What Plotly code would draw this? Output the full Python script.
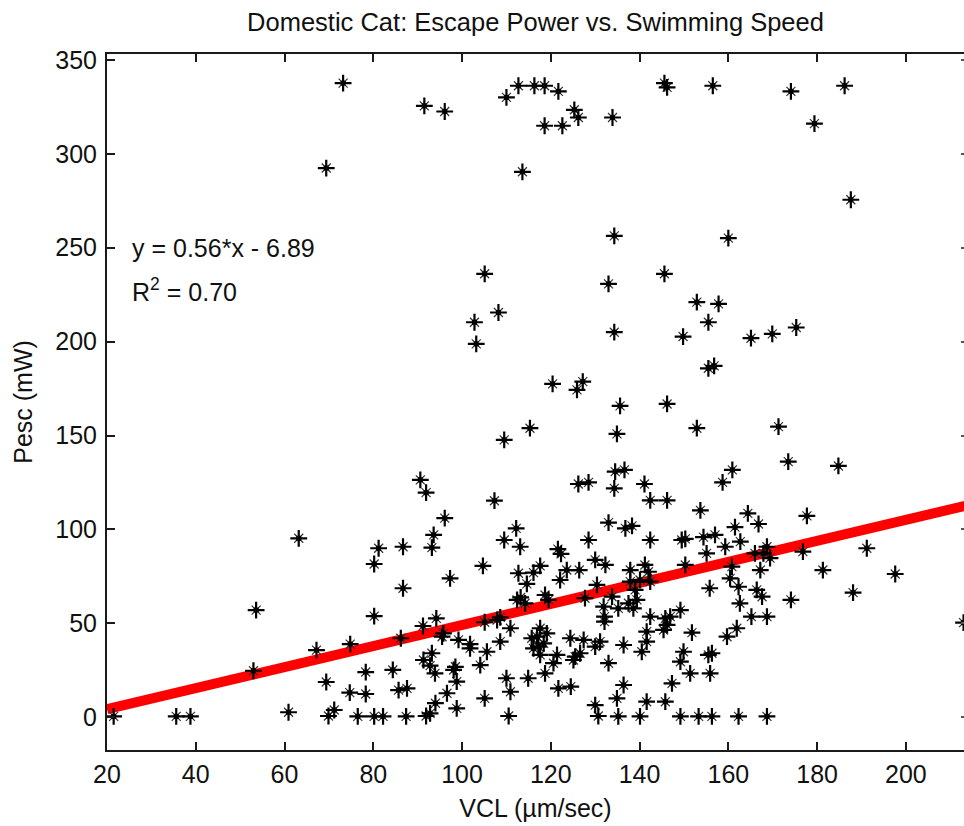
import plotly.graph_objects as go

# ---- data ----
vcl = [
    73.2, 69.4, 91.5, 96.1, 110.0, 112.7, 116.3, 118.6, 121.7, 125.3, 126.2, 118.6, 122.6, 133.9, 113.6,
    145.6, 146.2, 156.5, 174.1, 186.2, 179.4, 187.6, 134.3, 160.0, 105.1, 145.6, 133.0, 108.2, 102.8, 103.2,
    134.3, 149.8, 165.1, 169.9, 175.3, 152.9, 157.8, 155.5, 155.5, 156.8, 120.4, 125.9, 127.2, 135.6, 146.2,
    115.3, 109.5, 134.9, 152.9, 171.3, 173.5, 184.8, 160.9, 158.7, 134.5, 136.6, 134.3, 126.2, 128.5, 141.1,
    90.6, 91.9, 107.3, 142.4, 146.2, 153.7, 164.4, 177.7, 96.1,
    63.2, 81.2, 80.2, 80.2, 53.6, 67.2, 74.8, 53.0, 69.4, 78.3, 74.7, 78.3, 21.5, 35.6, 38.8,
    60.9, 69.9, 71.2, 76.5, 80.2, 82.2,
    93.6, 93.2, 86.7, 112.2, 109.5, 113.1, 121.6, 122.3, 104.7, 97.3, 86.7, 117.6, 116.1, 112.7, 114.6,
    123.6, 122.1, 126.4, 118.7, 119.5, 112.4, 113.2, 114.2, 94.2, 91.2, 95.8, 95.5, 86.2, 105.1, 107.9,
    108.6, 110.9, 99.2, 101.8, 101.8, 105.6, 108.6, 93.2, 91.3, 93.9, 92.8, 98.5, 98.1, 84.4, 104.1,
    98.8, 85.7, 87.6, 96.6, 94.0, 92.8, 91.9, 98.8, 105.1, 87.4, 110.5, 110.0, 110.9, 114.9, 118.7,
    121.7, 124.5, 117.6, 116.9, 117.2, 117.6, 115.7, 118.4, 116.1, 119.1, 121.4, 120.6, 124.4, 125.5,
    166.8, 161.5, 133.0, 136.8, 138.3, 128.5, 142.4, 149.5, 150.3, 154.4, 157.0, 162.7, 155.1, 159.3, 166.0,
    167.9, 130.0, 132.3, 137.9, 141.2, 142.0, 150.3, 160.8, 167.2, 140.1, 142.4, 137.9, 130.4, 160.4,
    162.3, 155.8, 166.4, 167.6, 162.6, 127.7, 133.8, 139.0, 139.4, 138.6, 131.9, 135.2, 132.1, 132.1,
    137.5, 142.4, 145.8, 146.9, 149.2, 146.2, 145.4, 165.2, 168.7, 141.6, 151.8, 161.9, 159.7, 141.6,
    140.5, 136.4, 131.1, 127.4, 130.0, 126.6, 125.1, 149.9, 149.2, 156.3, 155.5, 133.0, 151.4, 155.9,
    147.3, 136.4, 134.9, 141.6, 145.8, 130.0, 130.7, 135.2, 140.1, 149.2, 153.3, 156.3, 162.3, 168.7,
    168.7, 169.4, 176.8, 191.2, 181.3, 197.6, 188.1, 174.1, 213.0,
]
pesc = [
    337.6, 292.4, 325.5, 322.5, 330.0, 336.2, 336.2, 336.2, 333.2, 323.4, 319.3, 314.9, 314.9, 319.3, 290.4,
    337.6, 335.3, 336.2, 333.2, 336.2, 316.0, 275.5, 256.3, 255.1, 236.1, 236.1, 230.7, 215.5, 210.3, 198.8,
    205.0, 202.7, 201.8, 204.1, 207.5, 221.0, 220.1, 210.3, 185.8, 187.1, 177.5, 174.3, 178.7, 165.8, 166.8,
    153.9, 147.7, 150.9, 153.9, 154.7, 136.1, 133.8, 131.7, 125.1, 130.8, 131.7, 121.9, 124.2, 125.1, 124.2,
    126.4, 119.6, 115.3, 115.5, 115.5, 110.2, 108.6, 107.2, 106.0,
    95.3, 90.0, 81.6, 53.9, 57.1, 35.8, 39.0, 24.8, 18.8, 24.1, 13.1, 12.4, 0.5, 0.5, 0.5,
    2.7, 0.7, 3.9, 0.5, 0.5, 0.5,
    97.1, 90.3, 90.8, 100.6, 94.4, 90.8, 89.5, 87.0, 80.6, 74.0, 68.7, 80.6, 77.0, 76.7, 71.0,
    78.4, 73.1, 78.4, 65.1, 62.5, 62.5, 63.8, 60.7, 52.7, 48.6, 44.7, 42.9, 42.1, 50.6, 51.8,
    53.2, 47.4, 41.2, 39.0, 36.7, 34.9, 40.3, 34.1, 30.5, 23.4, 27.5, 26.9, 25.2, 25.2, 27.8,
    19.0, 14.5, 15.4, 12.8, 7.5, 2.1, 0.7, 4.8, 10.1, 0.5, 0.7, 20.8, 13.6, 20.8, 23.4,
    15.4, 16.3, 47.4, 42.9, 37.6, 33.2, 42.1, 39.4, 36.7, 44.7, 33.2, 28.8, 42.1, 32.3,
    102.9, 101.2, 103.6, 100.6, 101.9, 94.4, 94.4, 94.4, 95.0, 95.9, 97.1, 93.5, 87.3, 90.8, 87.3,
    87.3, 83.8, 81.1, 78.4, 81.1, 77.5, 81.1, 80.2, 78.4, 73.1, 72.2, 72.2, 70.5, 74.0,
    69.5, 68.7, 67.8, 64.2, 60.7, 63.4, 64.2, 67.8, 62.5, 58.0, 58.9, 58.0, 53.6, 50.9,
    60.7, 53.6, 52.7, 53.6, 57.1, 49.2, 46.5, 53.6, 53.6, 45.6, 45.1, 47.4, 42.9, 40.3,
    34.9, 38.5, 40.3, 41.2, 37.6, 34.1, 30.5, 34.9, 29.6, 34.1, 33.2, 28.8, 23.4, 23.4,
    18.1, 17.2, 10.1, 8.3, 8.3, 6.5, 0.7, 0.5, 0.5, 0.5, 0.5, 0.5, 0.5, 0.5,
    90.8, 84.7, 88.2, 90.0, 78.4, 76.3, 66.4, 62.5, 50.4,
]

fit_slope = 0.56
fit_intercept = -6.89
fit_r2 = 0.70
fit_x = [20, 214]
fit_y = [fit_slope * v + fit_intercept for v in fit_x]

x_ticks = [20, 40, 60, 80, 100, 120, 140, 160, 180, 200]
y_ticks = [0, 50, 100, 150, 200, 250, 300, 350]

FONT = "Liberation Sans"
TXT = "#111111"
Y_RANGE = [-17.4, 353.1]

fig = go.Figure()

fig.add_trace(go.Scatter(
    x=fit_x, y=fit_y, mode="lines",
    line=dict(color="#ff0000", width=10),
    hoverinfo="skip",
))
# same fit on the right-hand axis, invisible (keeps the right tick axis alive)
fig.add_trace(go.Scatter(
    x=fit_x, y=fit_y, mode="lines", yaxis="y2",
    line=dict(color="rgba(0,0,0,0)", width=0),
    hoverinfo="skip",
))

# asterisk markers: plus arms, faint diagonals, solid centre
fig.add_trace(go.Scatter(
    x=vcl, y=pesc, mode="markers",
    marker=dict(symbol="x-thin-open", size=9, color="#333333",
                line=dict(width=1.2, color="#333333")),
    hoverinfo="skip",
))
fig.add_trace(go.Scatter(
    x=vcl, y=pesc, mode="markers",
    marker=dict(symbol="cross-thin-open", size=12, color="black",
                line=dict(width=2.2, color="black")),
    hoverinfo="skip",
))
fig.add_trace(go.Scatter(
    x=vcl, y=pesc, mode="markers",
    marker=dict(symbol="square", size=5, color="black", line=dict(width=0)),
))

axis_common = dict(
    showgrid=False, zeroline=False, showline=True, linecolor="#1a1a1a", linewidth=2,
    ticks="inside", ticklen=8, tickwidth=1.5, tickcolor="#1a1a1a",
    tickfont=dict(family=FONT, size=25, color=TXT),
)

fig.update_layout(
    width=964, height=826,
    margin=dict(l=107, r=0, t=54, b=76),
    paper_bgcolor="white", plot_bgcolor="white",
    showlegend=False,
    font=dict(family=FONT, size=25, color=TXT),
    title=dict(
        text="Domestic Cat: Escape Power vs. Swimming Speed",
        x=0.5, xref="paper", xanchor="center",
        y=1 - 22 / 826, yref="container", yanchor="middle",
        font=dict(family=FONT, size=25.5, color=TXT),
    ),
    xaxis=dict(
        range=[20, 213.1], tickvals=x_ticks, ticktext=[str(t) for t in x_ticks],
        title=dict(text="VCL (µm/sec)", standoff=12, font=dict(family=FONT, size=25, color=TXT)),
        ticklabelstandoff=1, mirror="ticks",
        **axis_common,
    ),
    yaxis=dict(
        range=Y_RANGE, tickvals=y_ticks, ticktext=[str(t) for t in y_ticks],
        title=dict(text="Pesc (mW)", standoff=16, font=dict(family=FONT, size=25, color=TXT)),
        ticklabelstandoff=3, mirror=False,
        **axis_common,
    ),
    yaxis2=dict(
        overlaying="y", side="right", range=Y_RANGE, tickvals=y_ticks,
        showticklabels=False, showgrid=False, zeroline=False, showline=False,
        ticks="inside", ticklen=3, tickwidth=1.5, tickcolor="#555555",
    ),
    annotations=[
        dict(x=25.2, y=250, xref="x", yref="y", xanchor="left", yanchor="middle",
             text=f"y = {fit_slope:.2f}*x - {abs(fit_intercept):.2f}", showarrow=False,
             font=dict(family=FONT, size=25, color=TXT)),
        dict(x=25.2, y=227.5, xref="x", yref="y", xanchor="left", yanchor="middle",
             text=f"R<sup>2</sup> = {fit_r2:.2f}", showarrow=False,
             font=dict(family=FONT, size=25, color=TXT)),
    ],
)

fig.write_html("out.html")
